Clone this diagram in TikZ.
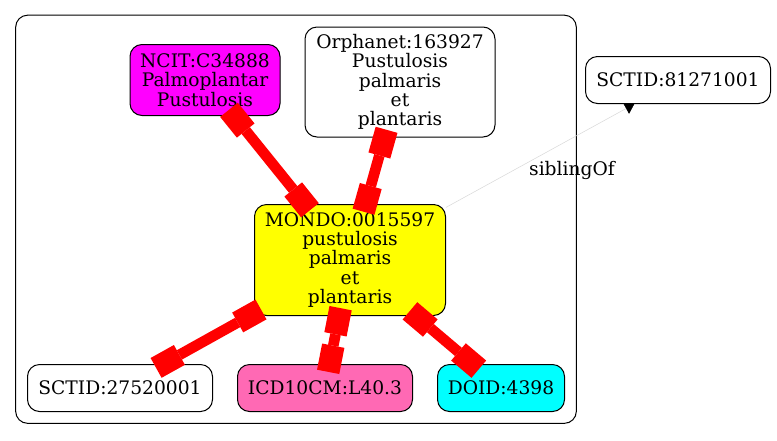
\documentclass[tikz,border=0pt]{standalone}
\usepackage{fontspec}
\setmainfont{DejaVu Serif}
\usetikzlibrary{arrows.meta,positioning,fit}

\definecolor{hotpink}{HTML}{FF69B4}
\definecolor{nodemagenta}{HTML}{FF00FF}
\definecolor{nodeyellow}{HTML}{FFFF00}
\definecolor{nodecyan}{HTML}{00FFFF}
\definecolor{edgered}{HTML}{FF0000}

\tikzset{
  term/.style={draw=black, line width=0.75pt, rounded corners=9pt, align=center,
    inner sep=0pt, minimum height=35.25pt, font=\fontsize{14}{14.5}\selectfont},
  sameAs/.style={draw=edgered, line width=8pt, shorten <=-6pt, shorten >=-6pt,
    {Rectangle[length=20pt,width=17pt,line width=0pt]}-{Rectangle[length=20pt,width=17pt,line width=0pt]}},
  sibling/.style={draw=black!15, line width=0.4pt,
    -{Triangle[length=7pt,width=9pt,color=black]}},
}

\begin{document}
\begin{tikzpicture}[x=0.75pt, y=-0.75pt]
\useasboundingbox (0,0) rectangle (777,440);
% Define nodes
\node[term, fill=nodeyellow, minimum width=143.25pt, minimum height=83.25pt] (mondo) at (350,260)
  {MONDO:0015597\\pustulosis\\palmaris\\et\\plantaris};
\node[term, fill=nodemagenta, minimum width=112.5pt, minimum height=53.25pt] (ncit) at (205,80)
  {NCIT:C34888\\Palmoplantar\\Pustulosis};
\node[term, fill=white, minimum width=142.5pt, minimum height=82.5pt] (orph) at (400,82)
  {Orphanet:163927\\Pustulosis\\palmaris\\et\\plantaris};
\node[term, fill=white, minimum width=138.75pt] (sctidA) at (678,80) {SCTID:81271001};
\node[term, fill=white, minimum width=138.75pt] (sctidB) at (120,388) {SCTID:27520001};
\node[term, fill=hotpink, minimum width=131.25pt, right=18pt of sctidB] (icd) {ICD10CM:L40.3};
\node[term, fill=nodecyan, minimum width=95.25pt, right=18pt of icd] (doid) {DOID:4398};

% Cluster
\node[draw=black, line width=0.75pt, rounded corners=9pt, inner sep=8.5pt,
  fit=(ncit)(orph)(mondo)(sctidB)(icd)(doid)] (cluster) {};

% Edges
\draw[sameAs] (ncit) -- (mondo);
\draw[sameAs] (orph) -- (mondo);
\draw[sameAs] (mondo) -- (sctidB);
\draw[sameAs] (mondo) -- (icd);
\draw[sameAs] (mondo) -- (doid);
\draw[sibling] (mondo) -- (sctidA);
\node[font=\fontsize{14}{14.5}\selectfont] (sibLabel) at (572,170) {siblingOf};
\end{tikzpicture}
\end{document}
